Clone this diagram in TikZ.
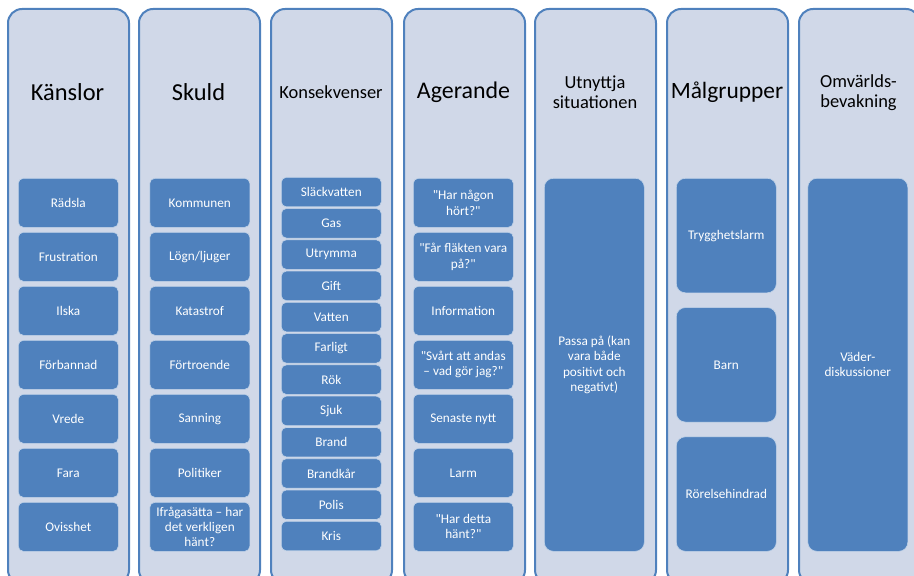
\documentclass[tikz,border=0pt]{standalone}
\usepackage{fontspec}
\setmainfont{Carlito}[Ligatures=TeXOff]
\definecolor{panelfill}{RGB}{208,216,232}
\definecolor{accent}{RGB}{79,129,189}
\begin{document}
\begin{tikzpicture}[x=1bp,y=-1bp,
  panel/.style={draw=accent, line width=2bp, fill=panelfill, rounded corners=14bp,
    minimum width=121bp, minimum height=575bp, inner sep=0pt, anchor=north west},
  title/.style={font=\fontsize{24.5}{29}\selectfont, text=black, align=center, inner sep=0pt},
  titlesm/.style={font=\fontsize{18.5}{22}\selectfont, text=black, align=center, inner sep=0pt},
  titletwo/.style={font=\fontsize{18.5}{20.5}\selectfont, text=black, align=center, inner sep=0pt},
  item/.style={draw=white!65!accent, line width=0.6bp, fill=accent, rounded corners=5bp,
    text=white, font=\fontsize{13.3}{15.3}\selectfont, align=center,
    minimum width=100bp, inner sep=0pt, anchor=north west}
]
\useasboundingbox (0,0) rectangle (914,576);
\clip (0,0) rectangle (914,576);
% panels
\node[panel] (p1) at (7,8) {};
\node[panel] (p2) at (138,8) {};
\node[panel] (p3) at (270,8) {};
\node[panel] (p4) at (403,8) {};
\node[panel] (p5) at (534,8) {};
\node[panel] (p6) at (666,8) {};
\node[panel] (p7) at (798,8) {};
% titles
\node[title] (t1) at (67.5,92) {Känslor};
\node[title] (t2) at (198.5,92) {Skuld};
\node[titlesm] (t3) at (331,92) {Konsekvenser};
\node[title, font=\fontsize{24}{29}\selectfont] (t4) at (463.5,92) {Agerande};
\node[titletwo] (t5) at (595,92.5) {Utnyttja\\situationen};
\node[title, font=\fontsize{23.5}{29}\selectfont] (t6) at (727,92) {Målgrupper};
\node[titletwo] (t7) at (858.5,92.5) {Omvärlds-\\bevakning};
% column 1
\foreach \t [count=\i from 0] in {Rädsla,Frustration,Ilska,Förbannad,Vrede,Fara,Ovisshet}
  \node[item, minimum height=49bp] (a\i) at (18,178+54*\i) {\t};
% column 2
\foreach \t [count=\i from 0] in {Kommunen,Lögn/ljuger,Katastrof,Förtroende,Sanning,Politiker,{Ifrågasätta – har\\det verkligen\\hänt?}}
  \node[item, minimum height=49bp] (b\i) at (149.5,178+54*\i) {\t};
% column 3
\foreach \t [count=\i from 0] in {Släckvatten,Gas,Utrymma,Gift,Vatten,Farligt,Rök,Sjuk,Brand,Brandkår,Polis,Kris}
  \node[item, minimum height=29.5bp] (c\i) at (281,177+31.27*\i) {\t};
% column 4
\foreach \t [count=\i from 0] in {{"Har någon\\hört?"},{"Får fläkten vara\\på?"},Information,{"Svårt att andas\\– vad gör jag?"},Senaste nytt,Larm,{"Har detta\\hänt?"}}
  \node[item, minimum height=49bp] (d\i) at (413,178+54*\i) {\t};
% column 5
\node[item, minimum height=373bp, rounded corners=9bp] (e0) at (544,178) {Passa på (kan\\vara både\\positivt och\\negativt)};
% column 6
\foreach \t [count=\i from 0] in {Trygghetslarm,Barn,Rörelsehindrad}
  \node[item, minimum height=114.5bp, rounded corners=9bp] (f\i) at (676,178+129.25*\i) {\t};
% column 7
\node[item, minimum height=373bp, rounded corners=9bp] (g0) at (807.5,178) {Väder-\\diskussioner};
\end{tikzpicture}
\end{document}
